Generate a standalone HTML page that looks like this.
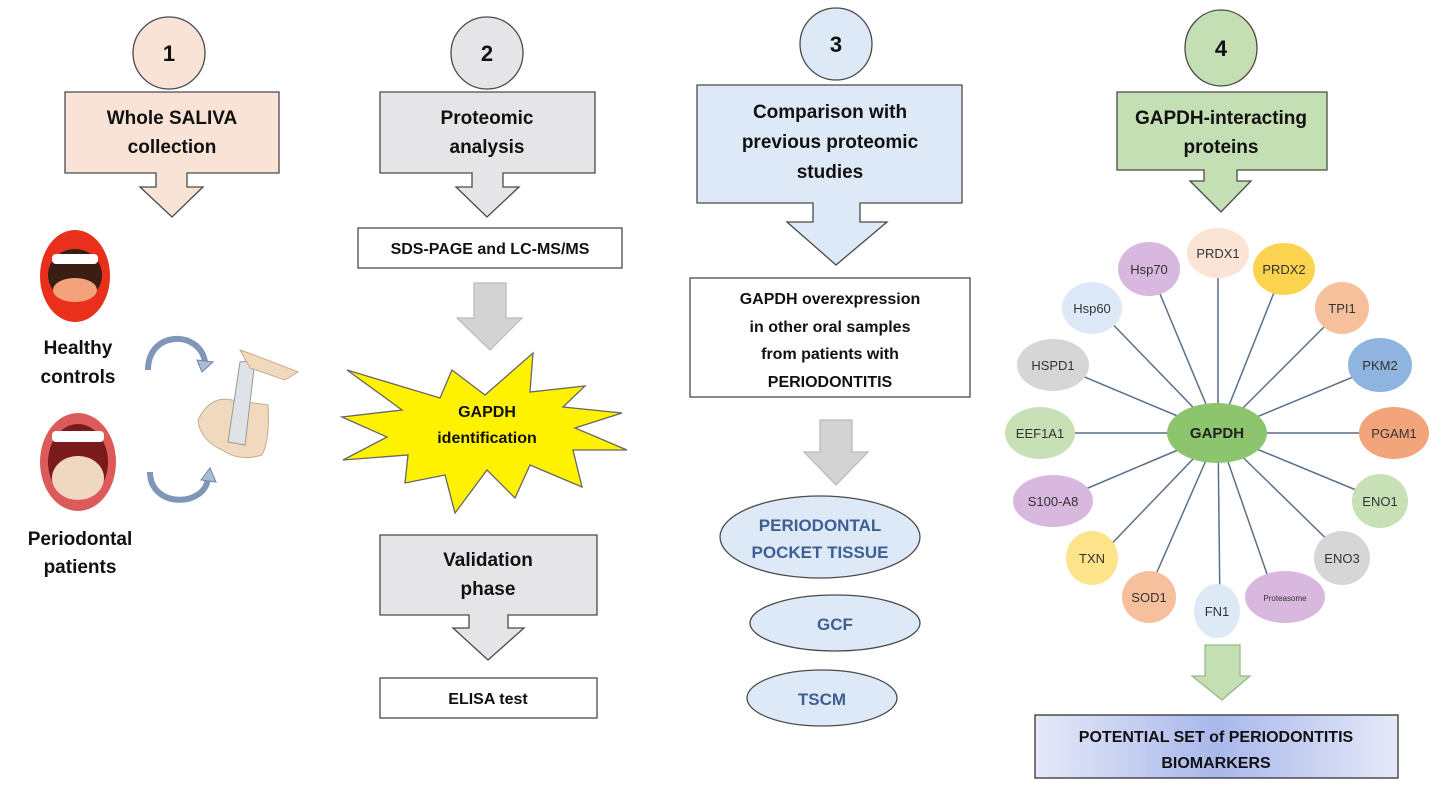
<!DOCTYPE html>
<html><head><meta charset="utf-8"><style>
html,body{margin:0;padding:0;background:#fff;}
svg{display:block;}
text{font-family:"Liberation Sans",sans-serif;}
.b{font-weight:bold;}
</style></head><body>
<svg width="1453" height="800" viewBox="0 0 1453 800" xmlns="http://www.w3.org/2000/svg">
<defs>
<linearGradient id="g1" x1="0" x2="1" y1="0" y2="0">
<stop offset="0" stop-color="#e6e9f8"/><stop offset="0.5" stop-color="#a9b8ec"/><stop offset="1" stop-color="#e6e9f8"/>
</linearGradient>
</defs>
<g stroke="#4a4a4a" stroke-width="1.3">
<ellipse cx="169" cy="53" rx="36" ry="36" fill="#f8e3d6"/>
<path d="M65,92 H279 V173 H187 V187 H203 L172,217 L140,187 H156 V173 H65 Z" fill="#f8e3d6"/>
<ellipse cx="487" cy="53" rx="36" ry="36" fill="#e5e5e7"/>
<path d="M380,92 H595 V173 H503 V187 H519 L487,217 L456,187 H472 V173 H380 Z" fill="#e5e5e7"/>
<rect x="358" y="228" width="264" height="40" fill="#fff"/>
<path d="M474,283 H506 V318 H522 L490,350 L457,318 H474 Z" fill="#d3d3d3" stroke="#bbb"/>
<path d="M533,353 L530,392 L585,386 L563,407 L622,413 L575,428 L627,450 L573,450 L582,487 L530,465 L515,498 L487,470 L455,513 L445,475 L405,483 L408,455 L343,460 L387,437 L342,417 L402,410 L347,370 L440,398 L452,370 L485,395 Z" fill="#fff200" stroke="#666"/>
<path d="M380,535 H597 V615 H508 V628 H524 L488,660 L453,628 H469 V615 H380 Z" fill="#e5e5e7"/>
<rect x="380" y="678" width="217" height="40" fill="#fff"/>
<ellipse cx="836" cy="44" rx="36" ry="36" fill="#dde9f6"/>
<path d="M697,85 H962 V203 H860 V222 H887 L836,265 L787,222 H813 V203 H697 Z" fill="#dde9f6"/>
<rect x="690" y="278" width="280" height="119" fill="#fff"/>
<path d="M820,420 H852 V452 H868 L836,485 L804,452 H820 Z" fill="#d3d3d3" stroke="#bbb"/>
<ellipse cx="820" cy="537" rx="100" ry="41" fill="#dde9f6"/>
<ellipse cx="835" cy="623" rx="85" ry="28" fill="#dde9f6"/>
<ellipse cx="822" cy="698" rx="75" ry="28" fill="#dde9f6"/>
<ellipse cx="1221" cy="48" rx="36" ry="38" fill="#c5dfb4"/>
<path d="M1117,92 H1327 V170 H1237 V181 H1251 L1221,212 L1190,181 H1204 V170 H1117 Z" fill="#c5dfb4"/>
<path d="M1205,645 H1240 V676 H1250 L1222,700 L1192,676 H1205 Z" fill="#c5dfb4" stroke="#9bb88a"/>
<rect x="1035" y="715" width="363" height="63" fill="url(#g1)" stroke="#333"/>
</g>
<g stroke="#5a6f8a" stroke-width="1.5">
<line x1="1218" y1="433" x2="1218" y2="253"/>
<line x1="1218" y1="433" x2="1150" y2="270"/>
<line x1="1218" y1="433" x2="1283" y2="270"/>
<line x1="1218" y1="433" x2="1097" y2="308"/>
<line x1="1218" y1="433" x2="1343" y2="308"/>
<line x1="1218" y1="433" x2="1056" y2="365"/>
<line x1="1218" y1="433" x2="1382" y2="365"/>
<line x1="1218" y1="433" x2="1043" y2="433"/>
<line x1="1218" y1="433" x2="1398" y2="433"/>
<line x1="1218" y1="433" x2="1055" y2="502"/>
<line x1="1218" y1="433" x2="1385" y2="502"/>
<line x1="1218" y1="433" x2="1098" y2="558"/>
<line x1="1218" y1="433" x2="1346" y2="558"/>
<line x1="1218" y1="433" x2="1150" y2="588"/>
<line x1="1218" y1="433" x2="1220" y2="610"/>
<line x1="1218" y1="433" x2="1275" y2="597"/>
</g>
<g font-size="13" text-anchor="middle" fill="#333">
<ellipse cx="1218" cy="253" rx="31" ry="25" fill="#fbe4d6"/><text x="1218" y="258">PRDX1</text>
<ellipse cx="1149" cy="269" rx="31" ry="27" fill="#d9b8df"/><text x="1149" y="274">Hsp70</text>
<ellipse cx="1284" cy="269" rx="31" ry="26" fill="#fbd34e"/><text x="1284" y="274">PRDX2</text>
<ellipse cx="1092" cy="308" rx="30" ry="26" fill="#dde9f6"/><text x="1092" y="313">Hsp60</text>
<ellipse cx="1342" cy="308" rx="27" ry="26" fill="#f6c09c"/><text x="1342" y="313">TPI1</text>
<ellipse cx="1053" cy="365" rx="36" ry="26" fill="#d6d6d6"/><text x="1053" y="370">HSPD1</text>
<ellipse cx="1380" cy="365" rx="32" ry="27" fill="#8fb4df"/><text x="1380" y="370">PKM2</text>
<ellipse cx="1040" cy="433" rx="35" ry="26" fill="#c7e0b6"/><text x="1040" y="438">EEF1A1</text>
<ellipse cx="1394" cy="433" rx="35" ry="26" fill="#f2a57a"/><text x="1394" y="438">PGAM1</text>
<ellipse cx="1053" cy="501" rx="40" ry="26" fill="#d9b8df"/><text x="1053" y="506">S100-A8</text>
<ellipse cx="1380" cy="501" rx="28" ry="27" fill="#c7e0b6"/><text x="1380" y="506">ENO1</text>
<ellipse cx="1092" cy="558" rx="26" ry="27" fill="#fde38a"/><text x="1092" y="563">TXN</text>
<ellipse cx="1342" cy="558" rx="28" ry="27" fill="#d6d6d6"/><text x="1342" y="563">ENO3</text>
<ellipse cx="1149" cy="597" rx="27" ry="26" fill="#f6c09c"/><text x="1149" y="602">SOD1</text>
<ellipse cx="1217" cy="611" rx="23" ry="27" fill="#dde9f6"/><text x="1217" y="616">FN1</text>
<ellipse cx="1285" cy="597" rx="40" ry="26" fill="#d9b8df"/><text x="1285" y="601" font-size="8">Proteasome</text>
<ellipse cx="1217" cy="433" rx="50" ry="30" fill="#8cc56e"/><text x="1217" y="438" class="b" font-size="15" fill="#222">GAPDH</text>
</g>
<g class="b" font-size="19" text-anchor="middle" fill="#111">
<text x="169" y="61" font-size="22">1</text>
<text x="487" y="61" font-size="22">2</text>
<text x="836" y="52" font-size="22">3</text>
<text x="1221" y="56" font-size="22">4</text>
<text x="172" y="124">Whole SALIVA</text>
<text x="172" y="153">collection</text>
<text x="487" y="124">Proteomic</text>
<text x="487" y="153">analysis</text>
<text x="490" y="254" font-size="16">SDS-PAGE and LC-MS/MS</text>
<text x="487" y="417" font-size="16">GAPDH</text>
<text x="487" y="443" font-size="16">identification</text>
<text x="488" y="566">Validation</text>
<text x="488" y="595">phase</text>
<text x="488" y="704" font-size="16">ELISA test</text>
<text x="830" y="118">Comparison with</text>
<text x="830" y="148">previous proteomic</text>
<text x="830" y="178">studies</text>
<text x="830" y="304" font-size="16">GAPDH overexpression</text>
<text x="830" y="332" font-size="16">in other oral samples</text>
<text x="830" y="359" font-size="16">from patients with</text>
<text x="830" y="387" font-size="16">PERIODONTITIS</text>
<text x="1221" y="124">GAPDH-interacting</text>
<text x="1221" y="153">proteins</text>
<text x="1216" y="742" font-size="16">POTENTIAL SET of PERIODONTITIS</text>
<text x="1216" y="768" font-size="16">BIOMARKERS</text>
<text x="78" y="354">Healthy</text>
<text x="78" y="383">controls</text>
<text x="80" y="545">Periodontal</text>
<text x="80" y="573">patients</text>
</g>
<g class="b" font-size="17" text-anchor="middle" fill="#3f5f94">
<text x="820" y="531">PERIODONTAL</text>
<text x="820" y="558">POCKET TISSUE</text>
<text x="835" y="630">GCF</text>
<text x="822" y="705">TSCM</text>
</g>
<ellipse cx="75" cy="276" rx="35" ry="46" fill="#e8301c"/>
<ellipse cx="75" cy="275" rx="27" ry="26" fill="#3a1e14"/>
<rect x="52" y="254" width="46" height="10" rx="4" fill="#fff"/>
<ellipse cx="75" cy="290" rx="22" ry="12" fill="#f4a27c"/>
<ellipse cx="78" cy="462" rx="38" ry="49" fill="#dd5a5a"/>
<ellipse cx="78" cy="462" rx="30" ry="38" fill="#7a1a1a"/>
<rect x="52" y="431" width="52" height="11" rx="4" fill="#fff"/>
<ellipse cx="78" cy="478" rx="26" ry="22" fill="#efd7c2"/>
<path d="M148,370 C148,330 200,330 205,362" fill="none" stroke="#7f96b7" stroke-width="6"/>
<path d="M197,360 L213,362 L202,372 Z" fill="#a9bcd6" stroke="#6c84a8"/>
<path d="M150,472 C150,508 205,508 208,478" fill="none" stroke="#7f96b7" stroke-width="6"/>
<path d="M201,480 L210,468 L216,482 Z" fill="#a9bcd6" stroke="#6c84a8"/>
<path d="M198,420 Q210,395 232,400 L268,405 Q270,440 262,455 Q240,462 222,450 Q200,440 198,420 Z" fill="#f1d9bd" stroke="#c9a98a"/>
<path d="M240,362 L255,360 L245,445 L228,442 Z" fill="#dfe3e8" stroke="#999"/>
<path d="M240,350 Q255,355 298,372 L285,380 Q262,372 250,368 Z" fill="#f1d9bd" stroke="#c9a98a"/>
</svg>
</body></html>
